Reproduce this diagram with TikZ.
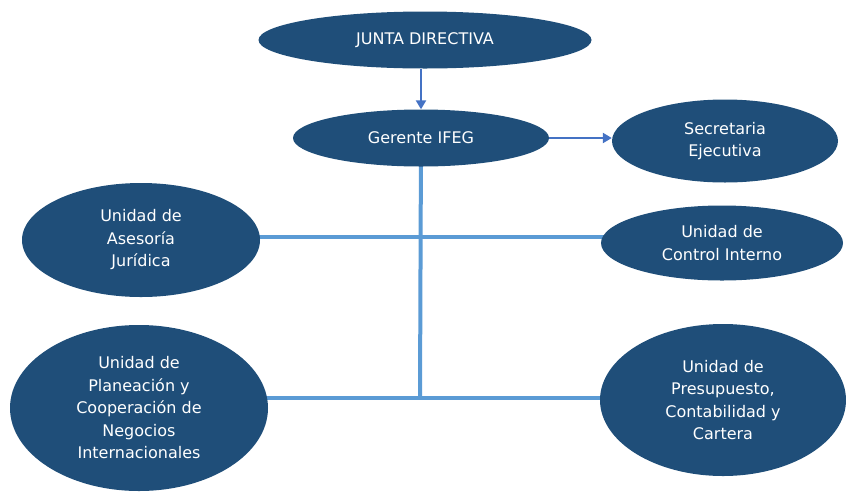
\documentclass[tikz,border=0pt]{standalone}
\usepackage{fontspec}
\setmainfont{DejaVu Sans}
\usepackage{xcolor}
\usepackage{tikz}
\usetikzlibrary{shapes,arrows.meta,backgrounds}
\definecolor{unitblue}{HTML}{1F4E79}
\definecolor{linkblue}{HTML}{5B9BD5}
\definecolor{arrowblue}{HTML}{4472C4}

\begin{document}
\begin{tikzpicture}[x=1pt,y=-1pt,
    unit/.style={ellipse, fill=unitblue, text=white, inner sep=0pt, align=center,
      font=\fontsize{16}{22.5}\selectfont},
    link/.style={linkblue, line width=4pt},
    arr/.style={arrowblue, line width=2.5pt, -{Triangle[length=9pt,width=10pt]}}]
    \useasboundingbox (0,0) rectangle (846,491);

    % direccion
    \node[unit, minimum width=333pt, minimum height=57pt] (junta) at (425,40) {JUNTA DIRECTIVA};
    \node[unit, minimum width=256pt, minimum height=57pt] (gerente) at (421,138) {Gerente IFEG};
    \node[unit, minimum width=226pt, minimum height=83pt] (secretaria) at (725,141) {Secretaria\\Ejecutiva};

    % unidades
    \node[unit, minimum width=238pt, minimum height=114pt] (asesoria) at (141,240) {Unidad de\\Asesoría\\Jurídica};
    \node[unit, minimum width=242pt, minimum height=75pt] (control) at (722,243) {Unidad de\\Control Interno};
    \node[unit, minimum width=258pt, minimum height=166pt] (planeacion) at (139,408) {Unidad de\\Planeación y\\Cooperación de\\Negocios\\Internacionales};
    \node[unit, minimum width=246pt, minimum height=152pt] (presupuesto) at (723,400) {Unidad de\\Presupuesto,\\Contabilidad y\\Cartera};

    % lineas
    \coordinate (mid) at (420,237);
    \coordinate (hub) at (420,398);
    \begin{pgfonlayer}{background}
    \draw[link] (gerente.center) -- (hub);
    \draw[link] (asesoria.center |- mid) -- (control.center |- mid);
    \draw[link] (planeacion.center |- hub) -- (presupuesto.center |- hub);
    \end{pgfonlayer}

    % flechas
    \draw[arr] (gerente.north |- junta.south) -- (gerente.north);
    \draw[arr] (gerente.east) -- (gerente.east -| secretaria.west);
\end{tikzpicture}
\end{document}
